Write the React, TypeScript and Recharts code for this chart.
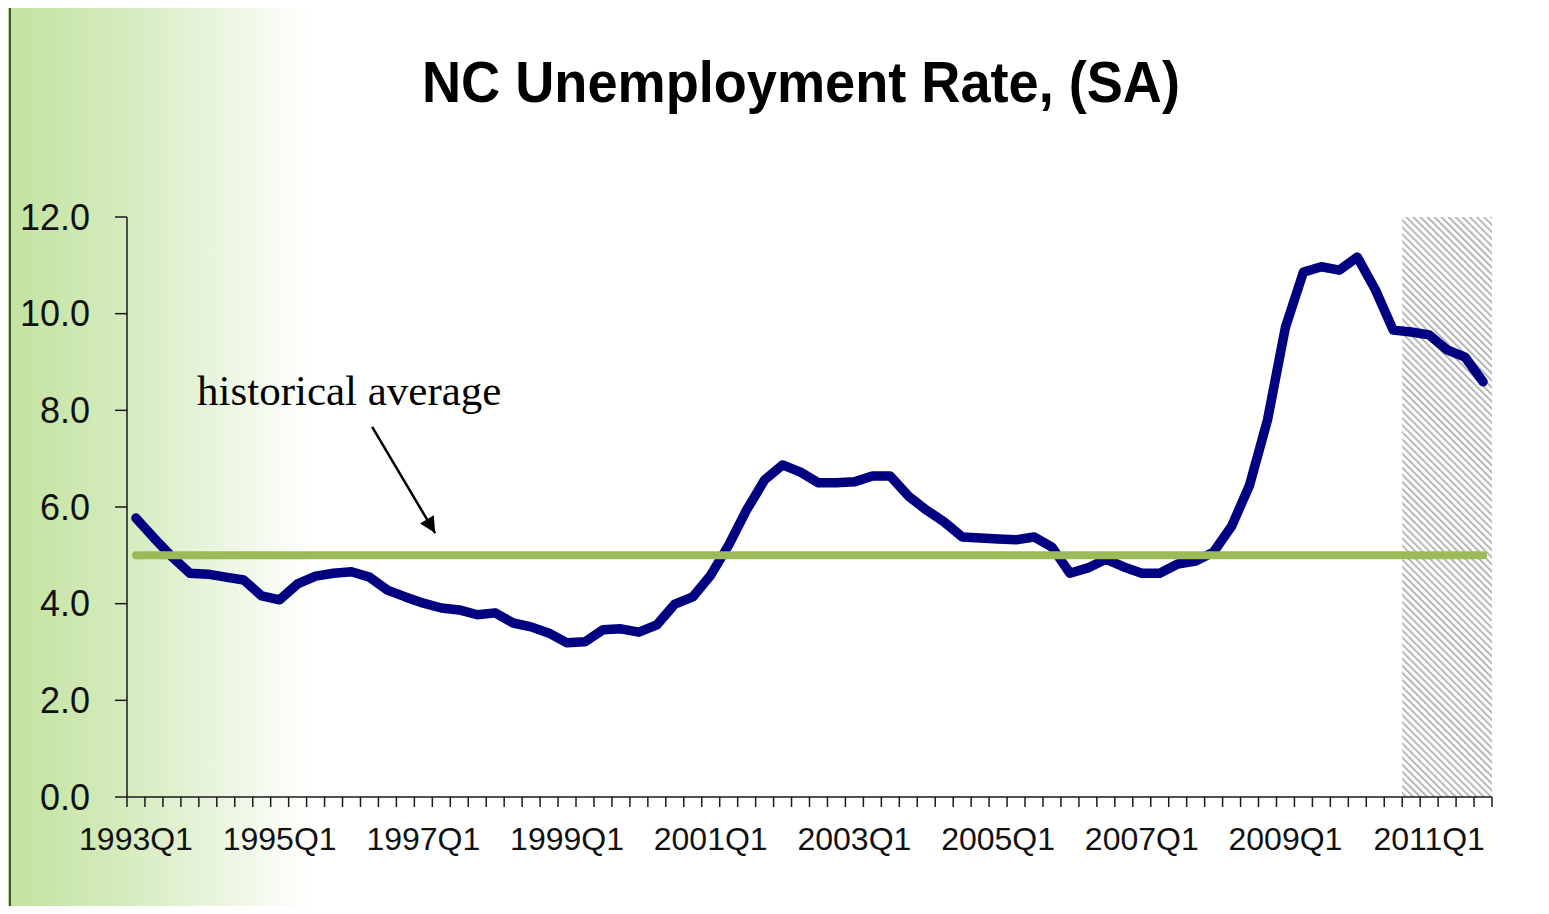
import { LineChart, Line, XAxis, YAxis, ReferenceArea, ReferenceLine } from "recharts";

// quarter labels 1993Q1 .. 2011Q4
const years = [1993, 1994, 1995, 1996, 1997, 1998, 1999, 2000, 2001, 2002, 2003, 2004, 2005, 2006, 2007, 2008, 2009, 2010, 2011];
const quarters = years.flatMap((y) => [`${y}Q1`, `${y}Q2`, `${y}Q3`, `${y}Q4`]);

// NC unemployment rate, seasonally adjusted
const unemploymentRate = [
  5.77, 5.36, 4.97, 4.63, 4.61, 4.55, 4.49, 4.16, 4.08, 4.41,
  4.57, 4.63, 4.66, 4.55, 4.28, 4.14, 4.01, 3.91, 3.87, 3.77,
  3.81, 3.6, 3.52, 3.39, 3.19, 3.21, 3.46, 3.48, 3.41, 3.56,
  3.99, 4.14, 4.59, 5.21, 5.94, 6.56, 6.87, 6.72, 6.5, 6.5,
  6.52, 6.64, 6.64, 6.23, 5.94, 5.69, 5.38, 5.36, 5.34, 5.32,
  5.38, 5.17, 4.63, 4.74, 4.92, 4.76, 4.63, 4.63, 4.82, 4.88,
  5.07, 5.6, 6.45, 7.8, 9.72, 10.86, 10.97, 10.9, 11.17, 10.5,
  9.66, 9.62, 9.56, 9.25, 9.1, 8.59,
];

const historicalAverage = 5.0;
const forecastStart = "2010Q4";
const forecastEnd = "2011Q4";
const yTicks = [0, 2, 4, 6, 8, 10, 12];

// arrow of the "historical average" note, in (quarter index, rate) units
const arrowFrom = { x: 13.47, y: 7.66 };
const arrowTo = { x: 16.93, y: 5.46 };

const W = 1549;
const H = 914;
const PLOT_LEFT = 127;
const PLOT_RIGHT = 1492;
const BAND = (PLOT_RIGHT - PLOT_LEFT) / quarters.length;

const rows = quarters.map((q, i) => ({ q, rate: unemploymentRate[i] }));

const AXIS = "#1a1a1a";
const FONT = "'Liberation Sans', Arial, sans-serif";

const QuarterTick = (props: any) => {
  const { x, y, payload, index } = props;
  const half = BAND / 2;
  return (
    <g>
      <line x1={x - half} x2={x - half} y1={y} y2={y + 10} stroke={AXIS} strokeWidth={1.5} />
      {index === quarters.length - 1 && (
        <line x1={x + half} x2={x + half} y1={y} y2={y + 10} stroke={AXIS} strokeWidth={1.5} />
      )}
      {index % 8 === 0 && (
        <text x={x} y={y + 53} textAnchor="middle" fontFamily={FONT} fontSize={32} fill="#111">
          {payload.value}
        </text>
      )}
    </g>
  );
};

export default function App() {
  return (
    <div
      style={{
        position: "relative",
        margin: -8,
        width: W,
        height: H,
        overflow: "hidden",
        background:
          "linear-gradient(to right, #b3dc86 0px, #b3dc86 10px, #c3e3a0 11px, #d4ebbc 120px, #e8f4dc 210px, #f6fbf1 270px, #ffffff 315px)",
      }}
    >
      <svg width={0} height={0} style={{ position: "absolute" }}>
        <defs>
          <pattern id="hatch" width="5" height="5" patternUnits="userSpaceOnUse" patternTransform="rotate(-45)">
            <rect width="5" height="5" fill="#ffffff" />
            <rect x="0" y="0" width="1.6" height="5" fill="#a8a8a8" />
          </pattern>
          <marker
            id="arrowHead"
            viewBox="0 0 10 10"
            refX="10"
            refY="5"
            markerWidth="20"
            markerHeight="16"
            markerUnits="userSpaceOnUse"
            orient="auto"
          >
            <path d="M0,0 L10,5 L0,10 z" fill="#000" />
          </marker>
        </defs>
      </svg>

      <div style={{ position: "absolute", left: 0, top: 0 }}>
        <LineChart width={W} height={H} data={rows} margin={{ top: 217, right: W - PLOT_RIGHT, left: 10, bottom: 57 }}>
          <ReferenceArea
            x1={forecastStart}
            x2={forecastEnd}
            y1={0}
            y2={12}
            fill="url(#hatch)"
            fillOpacity={1}
            stroke="none"
          />
          <XAxis
            dataKey="q"
            scale="band"
            interval={0}
            height={60}
            tickSize={0}
            tickMargin={0}
            tickLine={false}
            tick={<QuarterTick />}
            axisLine={{ stroke: AXIS, strokeWidth: 1.5 }}
          />
          <XAxis xAxisId="pos" type="number" domain={[-0.5, quarters.length - 0.5]} allowDataOverflow hide />
          <YAxis
            domain={[0, 12]}
            ticks={yTicks}
            width={PLOT_LEFT - 10}
            tickSize={12}
            tickMargin={25}
            tickFormatter={(v) => v.toFixed(1)}
            tick={{ fill: "#111", fontSize: 36, fontFamily: FONT }}
            tickLine={{ stroke: AXIS, strokeWidth: 1.5 }}
            axisLine={{ stroke: AXIS, strokeWidth: 1.5 }}
          />
          <Line
            type="linear"
            dataKey="rate"
            stroke="#000080"
            strokeWidth={9.5}
            strokeLinejoin="round"
            strokeLinecap="round"
            dot={false}
            activeDot={false}
            isAnimationActive={false}
          />
          <ReferenceLine
            segment={[
              { x: quarters[0], y: historicalAverage },
              { x: quarters[quarters.length - 1], y: historicalAverage },
            ]}
            stroke="#9bbb59"
            strokeWidth={8}
            strokeLinecap="round"
            ifOverflow="visible"
          />
          <ReferenceLine
            xAxisId="pos"
            segment={[arrowFrom, arrowTo]}
            stroke="#000"
            strokeWidth={2.5}
            markerEnd="url(#arrowHead)"
            ifOverflow="visible"
          />
        </LineChart>
      </div>

      <svg width={W} height={H} style={{ position: "absolute", left: 0, top: 0, pointerEvents: "none" }}>
        <line x1={10} y1={7} x2={W} y2={7} stroke="#222" strokeWidth={1.5} />
        <line x1={10} y1={7} x2={10} y2={H} stroke="#222" strokeWidth={1.5} />
        <text
          x={801}
          y={102}
          textAnchor="middle"
          fontFamily={FONT}
          fontWeight="bold"
          fontSize={57}
          textLength={758}
          lengthAdjust="spacingAndGlyphs"
          fill="#000"
        >
          NC Unemployment Rate, (SA)
        </text>
        <text x={197} y={405} fontFamily="'Liberation Serif', 'Times New Roman', serif" fontSize={43} fill="#000">
          historical average
        </text>
      </svg>
    </div>
  );
}
